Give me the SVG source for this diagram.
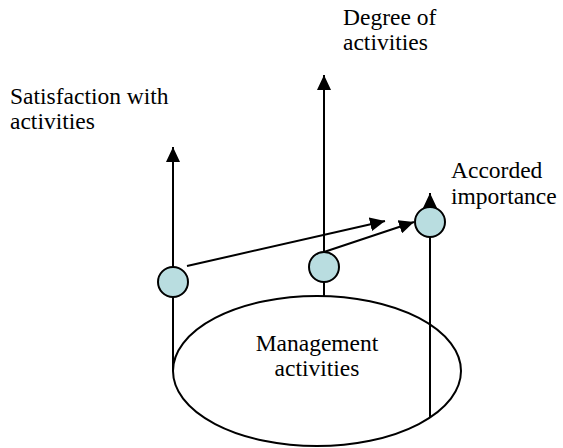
<svg xmlns="http://www.w3.org/2000/svg" width="563" height="448" viewBox="0 0 563 448">
<defs>
<style>
.lbl{font-family:"Liberation Serif","Times New Roman",serif;font-size:23.5px;fill:#000}
.ln{stroke:#000;stroke-width:2;fill:none}
.dot{fill:#b9dde0;stroke:#000;stroke-width:2}
</style>
<marker id="ah" viewBox="0 0 15 14" refX="15" refY="7" markerWidth="15" markerHeight="14" markerUnits="userSpaceOnUse" orient="auto">
<path d="M0,0 L15,7 L0,14 z" fill="#000"/>
</marker>
</defs>
<rect width="563" height="448" fill="#fff"/>
<g id="management">
<ellipse cx="317" cy="371" rx="144" ry="75" class="ln"/>
<text class="lbl" x="317" y="351" text-anchor="middle">Management</text>
<text class="lbl" x="317" y="376" text-anchor="middle">activities</text>
</g>
<g id="connectors">
<line class="ln" x1="173" y1="371" x2="173" y2="147" marker-end="url(#ah)"/>
<line class="ln" x1="324" y1="296" x2="324" y2="75" marker-end="url(#ah)"/>
<line class="ln" x1="430" y1="418" x2="430" y2="193" marker-end="url(#ah)"/>
<line class="ln" x1="187" y1="266" x2="385" y2="221" marker-end="url(#ah)"/>
<line class="ln" x1="324" y1="252" x2="414" y2="222" marker-end="url(#ah)"/>
</g>
<g id="satisfaction">
<circle class="dot" cx="173" cy="282" r="15"/>
<text class="lbl" x="10" y="104">Satisfaction with</text>
<text class="lbl" x="10" y="129">activities</text>
</g>
<g id="degree">
<circle class="dot" cx="324" cy="267" r="15"/>
<text class="lbl" x="343" y="25">Degree of</text>
<text class="lbl" x="343" y="50">activities</text>
</g>
<g id="importance">
<circle class="dot" cx="430" cy="222" r="15"/>
<text class="lbl" x="451" y="178">Accorded</text>
<text class="lbl" x="451" y="204">importance</text>
</g>
</svg>
